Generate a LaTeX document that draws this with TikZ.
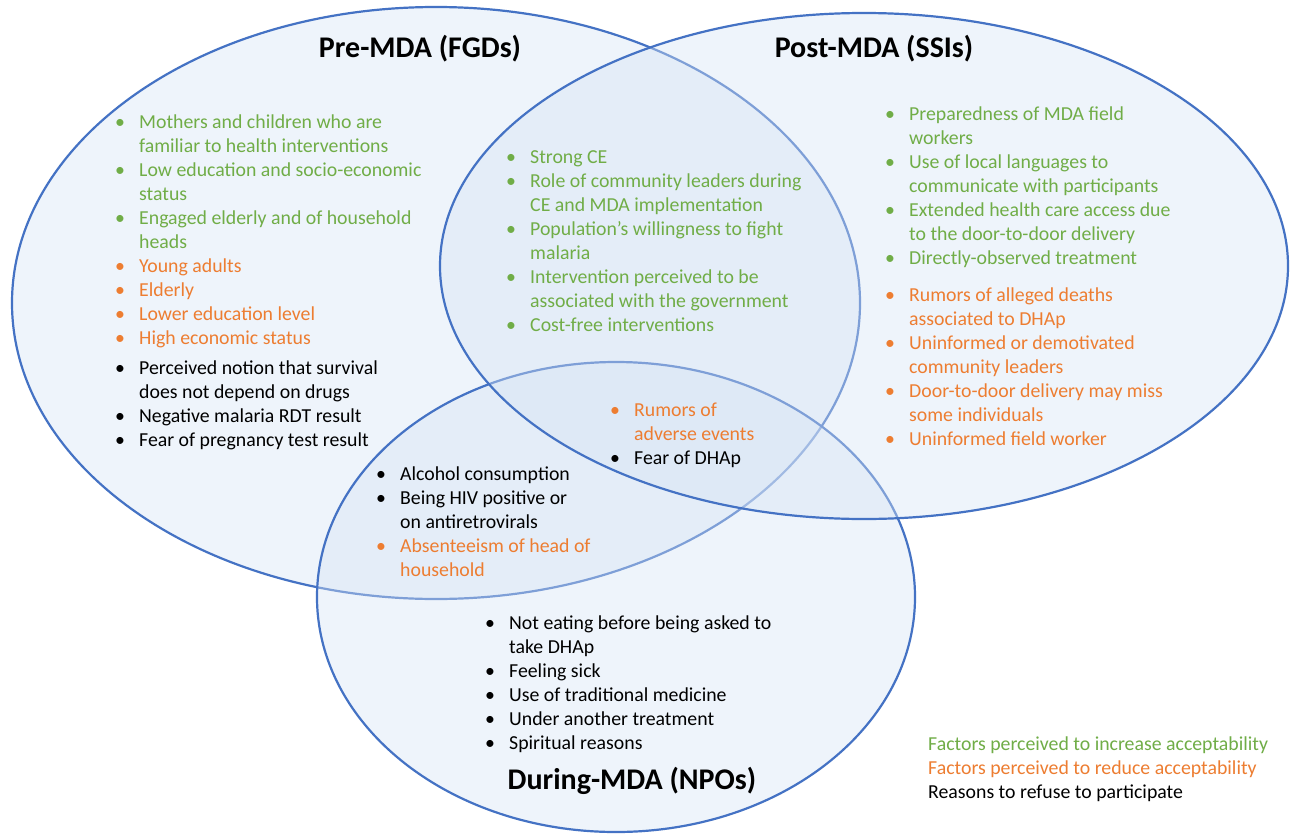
\documentclass[tikz,border=0pt]{standalone}
\usepackage{fontspec}
\setmainfont{Carlito}
\usetikzlibrary{shapes.geometric}
\definecolor{cg}{HTML}{70AD47}
\definecolor{co}{HTML}{ED7D31}
\definecolor{cb}{HTML}{000000}
\definecolor{eline}{HTML}{4472C4}
\definecolor{efill}{RGB}{214,228,245}
\newcommand\itm[2]{\textcolor{#1}{\textbullet} & \textcolor{#1}{#2}\\}
\newcommand\cnt[2]{ & \textcolor{#1}{#2}\\}
\newenvironment{blist}{\begin{tabular}[t]{@{}p{24pt}@{}l@{}}}{\end{tabular}}
\tikzset{
  ell/.style={ellipse, draw=eline, line width=2.2pt, fill=efill, fill opacity=0.4, inner sep=0pt},
  lst/.style={anchor=base west, inner sep=0pt, font=\fontsize{19.8}{24}\selectfont},
  ttl/.style={anchor=base, inner sep=0pt, font=\fontsize{30}{35}\selectfont\bfseries},
}
\begin{document}
\begin{tikzpicture}[x=1pt,y=-1pt]
\fill[white] (0,0) rectangle (1291,833);
\useasboundingbox (0,0) rectangle (1291,833);
\node[ell, minimum width=848pt, minimum height=592pt] (pre) at (436,303) {};
\node[ell, minimum width=598pt, minimum height=470pt] (dur) at (616,597) {};
\node[ell, minimum width=848pt, minimum height=506pt] (post) at (864,266) {};

\node[ttl] (tpre) at (420,57) {Pre-MDA (FGDs)};
\node[ttl] (tpost) at (874,57) {Post-MDA (SSIs)};
\node[ttl] (tdur) at (632,789) {During-MDA (NPOs)};

\node[lst] (lpre) at (115,128) {\begin{blist}
\itm{cg}{Mothers and children who are}
\cnt{cg}{familiar to health interventions}
\itm{cg}{Low education and socio-economic}
\cnt{cg}{status}
\itm{cg}{Engaged elderly and of household}
\cnt{cg}{heads}
\itm{co}{Young adults}
\itm{co}{Elderly}
\itm{co}{Lower education level}
\itm{co}{High economic status}
\noalign{\vskip6pt}
\itm{cb}{Perceived notion that survival}
\cnt{cb}{does not depend on drugs}
\itm{cb}{Negative malaria RDT result}
\itm{cb}{Fear of pregnancy test result}
\end{blist}};

\node[lst] (lcen) at (506,163) {\begin{blist}
\itm{cg}{Strong CE}
\itm{cg}{Role of community leaders during}
\cnt{cg}{CE and MDA implementation}
\itm{cg}{Population’s willingness to fight}
\cnt{cg}{malaria}
\itm{cg}{Intervention perceived to be}
\cnt{cg}{associated with the government}
\itm{cg}{Cost-free interventions}
\end{blist}};

\node[lst] (lpost) at (885,120) {\begin{blist}
\itm{cg}{Preparedness of MDA field}
\cnt{cg}{workers}
\itm{cg}{Use of local languages to}
\cnt{cg}{communicate with participants}
\itm{cg}{Extended health care access due}
\cnt{cg}{to the door-to-door delivery}
\itm{cg}{Directly-observed treatment}
\noalign{\vskip13pt}
\itm{co}{Rumors of alleged deaths}
\cnt{co}{associated to DHAp}
\itm{co}{Uninformed or demotivated}
\cnt{co}{community leaders}
\itm{co}{Door-to-door delivery may miss}
\cnt{co}{some individuals}
\itm{co}{Uninformed field worker}
\end{blist}};

\node[lst] (lmid) at (610,416) {\begin{blist}
\itm{co}{Rumors of}
\cnt{co}{adverse events}
\itm{cb}{Fear of DHAp}
\end{blist}};

\node[lst] (lpd) at (376,480) {\begin{blist}
\itm{cb}{Alcohol consumption}
\itm{cb}{Being HIV positive or}
\cnt{cb}{on antiretrovirals}
\itm{co}{Absenteeism of head of}
\cnt{co}{household}
\end{blist}};

\node[lst] (ldur) at (485,629) {\begin{blist}
\itm{cb}{Not eating before being asked to}
\cnt{cb}{take DHAp}
\itm{cb}{Feeling sick}
\itm{cb}{Use of traditional medicine}
\itm{cb}{Under another treatment}
\itm{cb}{Spiritual reasons}
\end{blist}};

\node[lst] (leg) at (928,750) {\begin{tabular}[t]{@{}l@{}}
\textcolor{cg}{Factors perceived to increase acceptability}\\
\textcolor{co}{Factors perceived to reduce acceptability}\\
\textcolor{cb}{Reasons to refuse to participate}\\
\end{tabular}};
\end{tikzpicture}
\end{document}
